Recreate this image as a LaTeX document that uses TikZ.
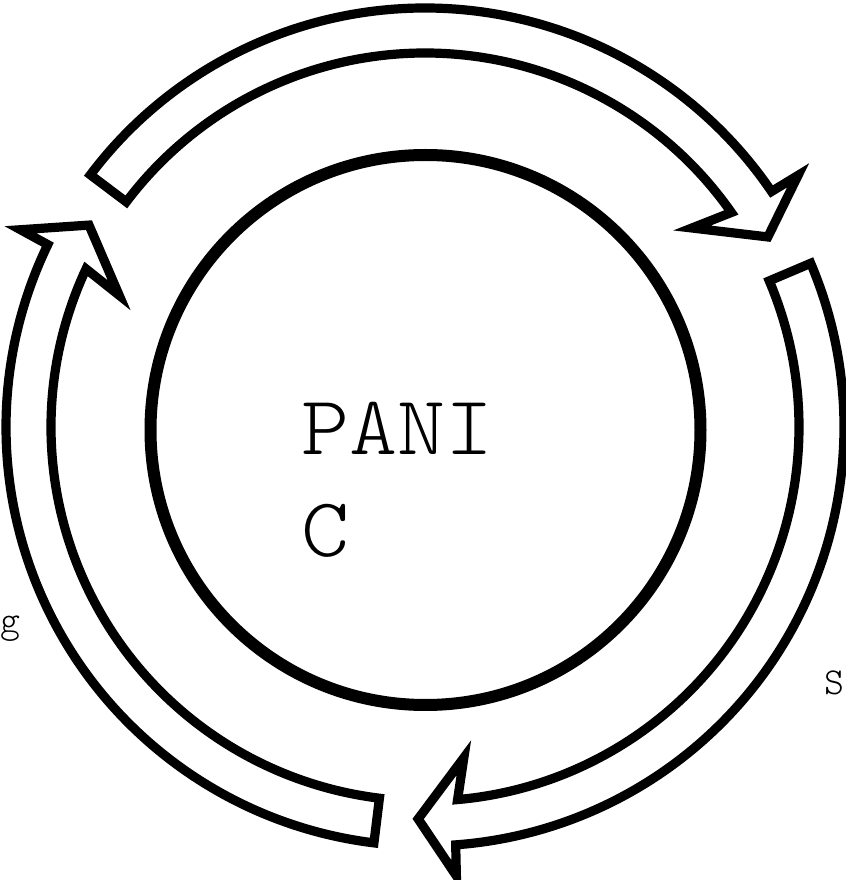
\documentclass[tikz,border=0pt]{standalone}
\usepackage{fontspec}
\setmonofont{Latin Modern Mono Light}
\usetikzlibrary{positioning}
\begin{document}
\begin{tikzpicture}[x=0.5pt,y=0.5pt,
    blk/.style={draw=black,line width=4.6pt,fill=white,line join=miter,miter limit=10},
    big/.style={font=\ttfamily\fontsize{42}{51}\selectfont,inner sep=0pt},
    side/.style={font=\ttfamily\fontsize{19}{24}\selectfont,inner sep=0pt}]
\useasboundingbox (0,0) rectangle (846,880);
\coordinate (c) at (425,453);
\node[draw,line width=6pt,circle,minimum size=275pt,inner sep=0pt] (ring) at (425.5,450) {};
% three block arrows, clockwise
\begin{scope}[shift={(c)}]
\foreach \tl in {143,23,263}{
  \draw[blk] (\tl:419) arc[start angle=\tl, end angle=\tl-108.8, radius=419]
    -- (\tl-109:450) -- (\tl-114:392) -- (\tl-106.3:333) -- (\tl-108:374)
    arc[start angle=\tl-108, end angle=\tl, radius=374] -- cycle;
}
\end{scope}
\node[big,anchor=base west] (pani) at (301,425) {\scalebox{1.09}[1]{PANI}};
\node[big,anchor=base west] (picc) at (301,323) {\scalebox{1.09}[1]{C}};
\node[side,anchor=base west] (lefttag) at (0,247) {g};
\node[side,anchor=base west] (righttag) at (824,185) {S};
\end{tikzpicture}
\end{document}
